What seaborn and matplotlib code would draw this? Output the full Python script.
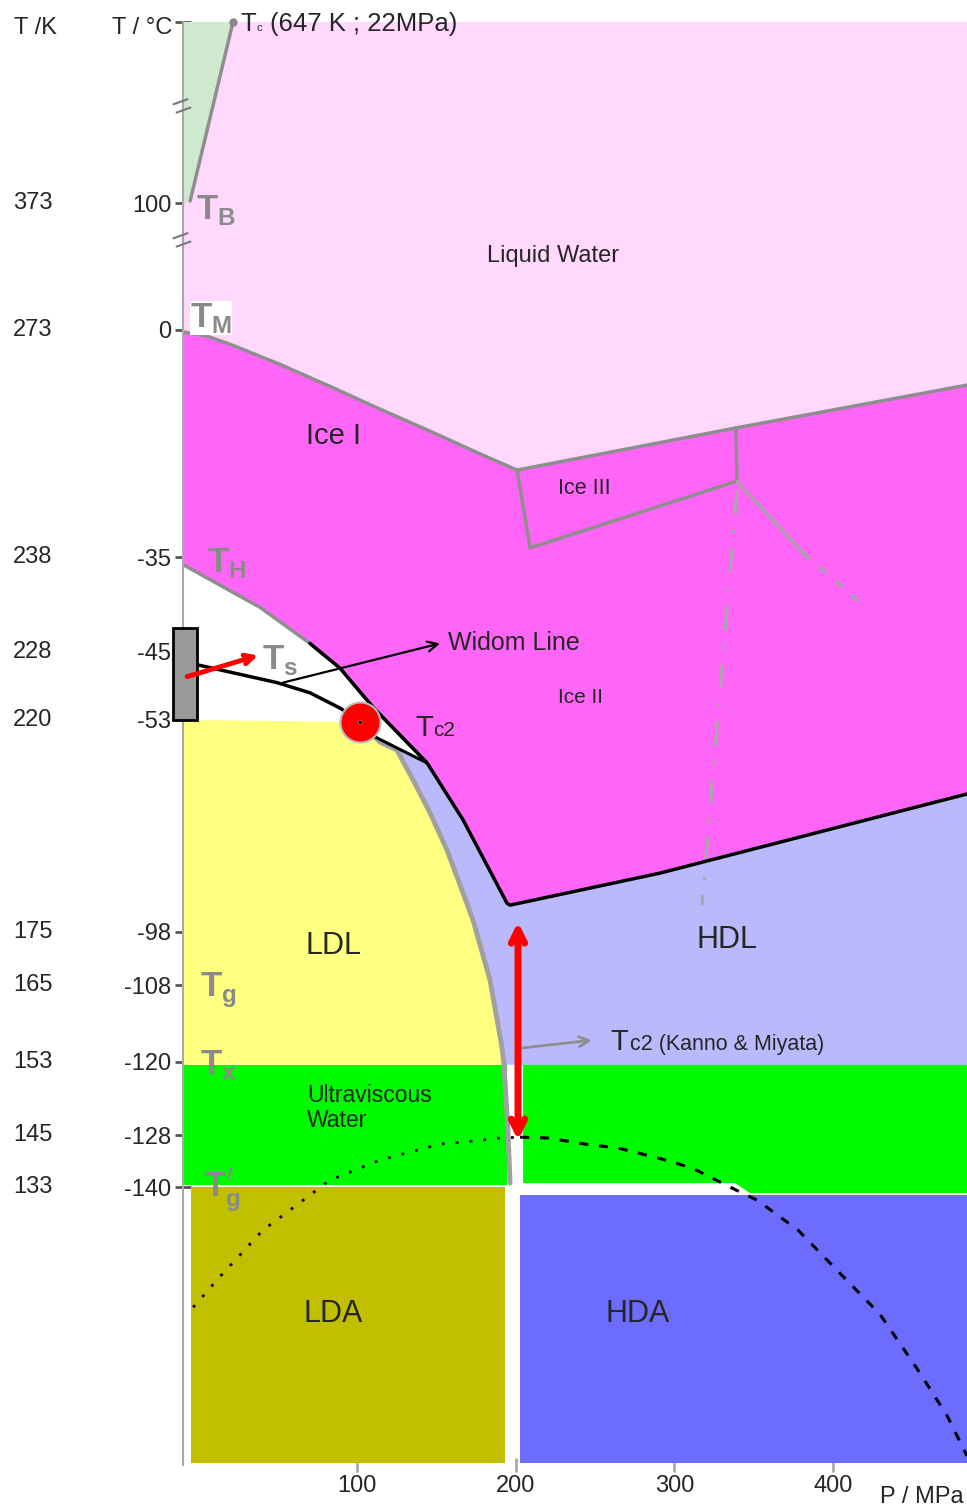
import numpy as np
import matplotlib
matplotlib.use("Agg")
import matplotlib.pyplot as plt
import seaborn as sns
from matplotlib.transforms import blended_transform_factory

# axis ranges (P in MPa, T in degC)
p_min, p_max = -9.5, 484.3
t_min, t_max = -204, 374

celsius_ticks = [374, 100, 0, -35, -45, -53, -98, -108, -120, -128, -140]
celsius_labels = ["", "100", "0", "-35", "-45", "-53", "-98", "-108", "-120", "-128", "-140"]
kelvin_ticks = [100, 0, -35, -45, -53, -98, -108, -120, -128, -140]
kelvin_labels = ["373", "273", "238", "228", "220", "175", "165", "153", "145", "133"]
pressure_ticks = [100, 200, 300, 400]

# the drawing uses a piecewise temperature axis
scale_temps = [-204, -140, -128, -120, -108, -98, -53, -45, -35, 0, 100, 374]
scale_pos = [1465, 1187, 1135, 1062, 985, 932, 720, 652, 557, 330, 203, 22]

# boundaries
boil_p = [22, -5]
boil_t = [374, 103]

melt_p = [-9.5, 5.0, 20.2, 51.6, 83.1, 114.6, 146.1, 177.6, 200.9, 338.8, 484.3]
melt_t = [-0.3, -0.9, -2.2, -5.3, -8.7, -12.2, -15.6, -19.1, -21.6, -15.1, -8.5]

ice3_p = [200.9, 209.1, 339.4, 338.8]
ice3_t = [-21.6, -33.6, -23.3, -15.1]
ice25_p = [339.4, 381.0]
ice25_t = [-23.3, -34.4]
ice25_ext_p = [381.0, 421.3]
ice25_ext_t = [-34.4, -40.4]
ice_meta_p = [339.4, 317.4]
ice_meta_t = [-24.7, -92.3]

th_p = [-9.5, 39.0, 70.5, 89.4, 110.2, 127.2, 144.2]
th_t = [-35.8, -40.3, -44.1, -46.9, -51.5, -56.2, -62.1]

hdl_top_p = [70.5, 89.4, 110.2, 127.2, 144.2, 166.9, 194.6, 196.5, 290.9, 484.3]
hdl_top_t = [-44.1, -46.9, -51.5, -56.2, -62.1, -74.2, -91.9, -92.3, -85.5, -68.7]

ts_p = [-0.6, 49.7, 70.5, 89.4, 97.0]
ts_t = [-46.5, -48.6, -49.8, -51.6, -52.5]
tc2_low_p = [102.0, 111.5, 130.4, 144.2]
tc2_low_t = [-53.4, -56.6, -59.8, -62.1]

llt_p = [102.0, 114.6, 125.3, 135.4, 146.1, 156.8, 166.9, 173.2, 183.9, 191.4, 192.7, 195.2, 196.5]
llt_t = [-53.4, -57.7, -59.4, -65.7, -72.7, -80.6, -89.7, -95.5, -107.1, -117.7, -120.3, -127.5, -139.1]

dot_p = [-3.1, 15.1, 40.9, 60.5, 83.1, 114.6, 152.4, 168.1, 190.2, 202.8]
dot_t = [-167.7, -160.1, -149.9, -144.6, -138.4, -133.8, -130.1, -129.6, -128.7, -128.5]
dash_p = [202.8, 220.4, 243.7, 264.5, 289.7, 311.1, 338.8, 352.0, 377.8, 406.8, 429.5, 452.8, 471.7, 484.3]
dash_t = [-128.5, -128.7, -130.1, -131.0, -133.3, -135.6, -140.7, -143.0, -149.9, -160.8, -169.3, -181.8, -192.6, -201.9]

tc2_p, tc2_t = 102.0, -53.4

pos = -np.array(scale_pos, dtype=float)
temps = np.array(scale_temps, dtype=float)


def fwd(t):
    return np.interp(t, temps, pos)


def inv(v):
    return np.interp(v, pos, temps)


sns.set_theme(style="white")
plt.rcParams["font.family"] = ["Liberation Sans", "DejaVu Sans"]

fig = plt.figure(figsize=(9.67, 15.12), dpi=100)
ax = fig.add_axes([183 / 967, 1 - 1465 / 1512, 784 / 967, 1443 / 1512])
ax.set_yscale("function", functions=(fwd, inv))


def line(p, t, **kw):
    sns.lineplot(x=p, y=t, sort=False, estimator=None, ax=ax, **kw)


# filled regions
ax.fill([p_min, 22, -5, p_min], [t_max, t_max, 103, 100], color="#CFE9CF", lw=0)
ax.fill([22, p_max] + melt_p[::-1] + [p_min, -5],
        [t_max, t_max] + melt_t[::-1] + [100, 103], color="#FFD8FC", lw=0)
ax.fill(melt_p + hdl_top_p[::-1] + th_p[:2][::-1],
        melt_t + hdl_top_t[::-1] + th_t[:2][::-1], color="#FF66F8", lw=0)
ax.fill([p_min] + llt_p[:11] + [p_min], [-53] + llt_t[:11] + [-120.3], color="#FFFF80", lw=0)
ax.fill(tc2_low_p + hdl_top_p[5:] + [p_max] + llt_p[:11][::-1],
        tc2_low_t + hdl_top_t[5:] + [-120.3] + llt_t[:11][::-1], color="#B9B9FC", lw=0)
ax.fill([p_min, 194.6, 194.6, p_min], [-120.3, -120.3, -139.5, -139.5], color="#00FA00", lw=0)
ax.fill([204.7, p_max, p_max, 347.6, 338.2, 204.7],
        [-120.3, -120.3, -141.4, -141.4, -139.1, -139.1], color="#00FA00", lw=0)
ax.fill([-4.4, 193.3, 193.3, -4.4], [-140, -140, -203.5, -203.5], color="#C1BF00", lw=0)
ax.fill([202.8, p_max, p_max, 202.8], [-141.8, -141.8, -203.5, -203.5], color="#6C6CFF", lw=0)

# phase boundaries
grey = "#8E8E8E"
line(boil_p, boil_t, color=grey, lw=2.5)
line(melt_p, melt_t, color=grey, lw=2.5)
line(ice3_p, ice3_t, color=grey, lw=2.5)
line(ice25_p, ice25_t, color="#A5A5A5", lw=2.2)
line(ice25_ext_p, ice25_ext_t, color="#A5A5A5", lw=2.2, linestyle=(0, (3, 4)))
line(ice_meta_p, ice_meta_t, color="#A8A8A8", lw=2.2, linestyle=(0, (8, 5, 1, 5)))
line(th_p, th_t, color=grey, lw=2.5)
line(llt_p, llt_t, color="#A0A0A0", lw=3.5)
line(hdl_top_p, hdl_top_t, color="black", lw=2.5)
line(ts_p, ts_t, color="black", lw=2.5)
line(tc2_low_p, tc2_low_t, color="black", lw=2.2)
line(dot_p, dot_t, color="black", lw=2, linestyle=(0, (1, 4)))
line(dash_p, dash_t, color="black", lw=2.2, linestyle=(0, (3, 3.5)))

# liquid-liquid critical point
sns.scatterplot(x=[tc2_p], y=[tc2_t], s=830, color="#FF0000", edgecolor="#BBBBBB", linewidth=1.5,
                ax=ax, zorder=5)
sns.scatterplot(x=[tc2_p], y=[tc2_t], s=8, color="black", ax=ax, zorder=6)
ax.plot([22], [374], marker="o", ms=5, color="#888888", clip_on=False)

# grey box on the axis
ax.fill([-15.7, -0.6, -0.6, -15.7], [-42.5, -42.5, -53, -53], facecolor="#999999",
        edgecolor="black", lw=2, clip_on=False, zorder=6)

# arrows
ax.annotate("", xy=(37.8, -45.4), xytext=(-6.9, -47.9),
            arrowprops=dict(arrowstyle="->", color="red", lw=3.5, mutation_scale=16,
                            shrinkA=0, shrinkB=0), zorder=7)
ax.annotate("", xy=(152.4, -44.1), xytext=(53.5, -48.6),
            arrowprops=dict(arrowstyle="->", color="black", lw=1.6, mutation_scale=18,
                            shrinkA=0, shrinkB=0))
ax.annotate("", xy=(201.5, -95.9), xytext=(201.5, -129.2),
            arrowprops=dict(arrowstyle="<->", color="red", lw=5, mutation_scale=24,
                            shrinkA=0, shrinkB=0), zorder=6)
ax.annotate("", xy=(248.1, -116.6), xytext=(204.7, -117.8),
            arrowprops=dict(arrowstyle="->", color="#8E8E8E", lw=2, mutation_scale=18,
                            shrinkA=0, shrinkB=0))

# region labels
ax.text(223.6, 58.3, "Liquid Water", fontsize=17, ha="center", va="center")
ax.text(85.0, -16.3, "Ice I", fontsize=21, ha="center", va="center")
ax.text(243.1, -24.5, "Ice III", fontsize=15.5, ha="center", va="center")
ax.text(240.6, -50.3, "Ice II", fontsize=15, ha="center", va="center")
ax.text(157.4, -44.0, "Widom Line", fontsize=18, ha="left", va="center")
ax.text(85.0, -100.6, "LDL", fontsize=22, ha="center", va="center")
ax.text(333.1, -99.5, "HDL", fontsize=22, ha="center", va="center")
ax.text(68.6, -125.0, "Ultraviscous\nWater", fontsize=16.5, ha="left", va="center", linespacing=1.1)
ax.text(85.0, -169.3, "LDA", fontsize=22, ha="center", va="center")
ax.text(277.1, -169.3, "HDA", fontsize=22, ha="center", va="center")

ax.text(136.6, -56.4, "T", fontsize=21, ha="left", va="baseline", zorder=7)
ax.text(148.0, -56.4, "c2", fontsize=15, ha="left", va="baseline", zorder=7)
ax.text(259.4, -118.1, "T", fontsize=21, ha="left", va="baseline")
ax.text(272.0, -118.1, "c2 (Kanno & Miyata)", fontsize=15.5, ha="left", va="baseline")

ax.text(26.4, 360.4, "T", fontsize=18.5, ha="left", va="baseline")
ax.text(37.0, 360.4, "c", fontsize=8, ha="left", va="baseline")
ax.text(45.3, 360.4, "(647 K ; 22MPa)", fontsize=18.5, ha="left", va="baseline")

# hand written temperature marks
hand = dict(color="#8A8A8A", fontsize=25, fontweight="bold", ha="left", va="center", zorder=7)
ax.text(-1.3, 94.5, r"T$_\mathregular{B}$", **hand)
ax.text(-5.0, 9.5, r"T$_\mathregular{M}$", bbox=dict(fc="white", ec="none", pad=0), **hand)
ax.text(5.7, -35.6, r"T$_\mathregular{H}$", **hand)
ax.text(40.3, -45.9, r"T$_\mathregular{s}$", **hand)
ax.text(1.3, -108.9, r"T$_\mathregular{g}$", **hand)
ax.text(1.3, -120.3, r"T$_\mathregular{x}$", **hand)
ax.text(4.0, -140.7, r"T$_\mathregular{g}^\prime$", **hand)

# axis break marks
for t in [243.8, 69.3]:
    ax.text(p_min, t, "=", fontsize=24, color="#777777", rotation=20, ha="center", va="center",
            clip_on=False)

ax.set_xlim(p_min, p_max)
ax.set_ylim(t_min, t_max)
ax.set_xticks(pressure_ticks)
ax.set_xticklabels([str(p) for p in pressure_ticks])
ax.set_yticks(celsius_ticks)
ax.set_yticklabels(celsius_labels)
ax.set_xlabel("")
ax.set_ylabel("")
ax.tick_params(axis="y", direction="inout", length=11, width=2, color="#555555", pad=3,
               labelsize=17, left=True)
ax.tick_params(axis="x", direction="inout", length=10, width=2, color="#AAAAAA", pad=2,
               labelsize=17, bottom=True)
for side in ["top", "right", "bottom"]:
    ax.spines[side].set_visible(False)
ax.spines["left"].set_color("#A8A8A8")
ax.spines["left"].set_linewidth(1.5)

kelvin_tr = blended_transform_factory(fig.transFigure, ax.transData)
for t, lab in zip(kelvin_ticks, kelvin_labels):
    ax.text(33 / 967, t, lab, transform=kelvin_tr, fontsize=17, ha="center", va="center")
fig.text(35 / 967, 1 - 28 / 1512, "T /K", fontsize=17, ha="center", va="center")
fig.text(172 / 967, 1 - 28 / 1512, "T / °C", fontsize=17, ha="right", va="center")
fig.text(922 / 967, 1 - 1497 / 1512, "P / MPa", fontsize=17, ha="center", va="center")

fig.savefig("out.png", dpi=100)
